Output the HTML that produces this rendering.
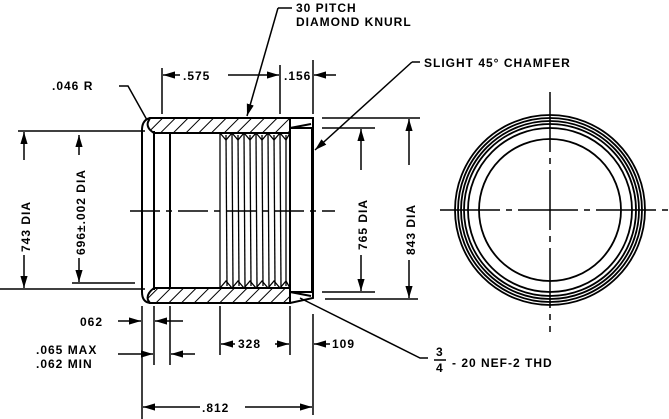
<!DOCTYPE html>
<html><head><style>body{margin:0;background:#fff}svg{display:block}text{font-family:"Liberation Sans",sans-serif;font-weight:bold;fill:#000;letter-spacing:1px}</style></head><body>
<svg width="669" height="419" viewBox="0 0 669 419" xmlns="http://www.w3.org/2000/svg">
<defs>
<pattern id="h" width="9" height="9" patternUnits="userSpaceOnUse" patternTransform="rotate(45)"><line x1="0" y1="0" x2="0" y2="9" stroke="#000" stroke-width="2"/></pattern>
<marker id="a" viewBox="0 0 10 6" refX="10" refY="3" markerWidth="8" markerHeight="5" orient="auto-start-reverse"><path d="M0,0L10,3L0,6z"/></marker>
</defs>
<g stroke="#000" stroke-width="2" fill="none">
<path d="M150,118 L290,118 L290,133 L170,133 L154,133 Q146,128 148,122Z" fill="url(#h)"/>
<path d="M150,303 L290,303 L290,288 L170,288 L154,288 Q146,294 148,300Z" fill="url(#h)"/>
<path d="M290,118 L313,118 L313,298 L290,303"/>
<path d="M290,128 L311,124 M290,292 L311,296"/>
<rect x="290" y="128" width="22" height="164"/>
<path d="M150,118 Q142,120 142,130 L142,292 Q142,302 150,303"/>
<line x1="154" y1="131" x2="154" y2="290"/>
<line x1="170" y1="133" x2="170" y2="288"/>
<g stroke-width="1.3">
<line x1="220" y1="133" x2="220" y2="288"/><line x1="226" y1="135" x2="227" y2="286"/>
<line x1="232" y1="133" x2="233" y2="288"/><line x1="238" y1="135" x2="239" y2="286"/>
<line x1="244" y1="133" x2="245" y2="288"/><line x1="250" y1="135" x2="251" y2="286"/>
<line x1="256" y1="133" x2="257" y2="288"/><line x1="262" y1="135" x2="263" y2="286"/>
<line x1="268" y1="133" x2="269" y2="288"/><line x1="274" y1="135" x2="275" y2="286"/>
<line x1="280" y1="133" x2="281" y2="288"/><line x1="286" y1="135" x2="286" y2="286"/>
</g>
<path d="M220,133 L226,140 L232,133 L238,140 L244,133 L250,140 L256,133 L262,140 L268,133 L274,140 L280,133 L286,140 L290,133" stroke-width="1.3"/>
<path d="M220,288 L226,281 L232,288 L238,281 L244,288 L250,281 L256,288 L262,281 L268,288 L274,281 L280,288 L286,281 L290,288" stroke-width="1.3"/>
<line x1="130" y1="211" x2="335" y2="211" stroke-width="1.5" stroke-dasharray="30,6,6,6"/>
<g stroke-width="1.5">
<line x1="18" y1="131" x2="145" y2="131"/><line x1="0" y1="289" x2="145" y2="289"/>
<line x1="72" y1="283" x2="135" y2="283"/>
<line x1="322" y1="128" x2="375" y2="128"/><line x1="322" y1="292" x2="375" y2="292"/>
<line x1="322" y1="118" x2="420" y2="118"/><line x1="325" y1="299" x2="418" y2="299"/>
<line x1="162" y1="68" x2="162" y2="114"/><line x1="280" y1="65" x2="280" y2="114"/><line x1="313" y1="60" x2="313" y2="114"/>
<line x1="142" y1="306" x2="142" y2="419"/><line x1="154" y1="306" x2="154" y2="365"/><line x1="170" y1="306" x2="170" y2="365"/>
<line x1="220" y1="306" x2="220" y2="355"/><line x1="290" y1="306" x2="290" y2="355"/><line x1="313" y1="314" x2="313" y2="415"/>
</g>
<g stroke-width="1.5" marker-end="url(#a)">
<line x1="24" y1="160" x2="24" y2="132"/><line x1="24" y1="255" x2="24" y2="288"/>
<line x1="79" y1="155" x2="79" y2="135"/><line x1="79" y1="258" x2="79" y2="282"/>
<line x1="361" y1="170" x2="361" y2="129"/><line x1="361" y1="255" x2="361" y2="291"/>
<line x1="409" y1="165" x2="409" y2="119"/><line x1="409" y1="260" x2="409" y2="298"/>
<line x1="180" y1="75" x2="163" y2="75"/><line x1="228" y1="75" x2="279" y2="75"/>
<line x1="336" y1="75" x2="314" y2="75"/>
<line x1="118" y1="321" x2="141" y2="321"/><line x1="183" y1="321" x2="155" y2="321"/>
<line x1="118" y1="354" x2="153" y2="354"/><line x1="195" y1="354" x2="171" y2="354"/>
<line x1="235" y1="344" x2="221" y2="344"/><line x1="275" y1="344" x2="289" y2="344"/>
<line x1="330" y1="344" x2="314" y2="344"/>
<line x1="200" y1="407" x2="143" y2="407"/><line x1="245" y1="407" x2="312" y2="407"/>
<line x1="278" y1="8" x2="247" y2="116"/>
<line x1="412" y1="62" x2="315" y2="150"/>
</g>
<path d="M119,86 L128,86 L147,120" stroke-width="1.5"/>
<path d="M278,8 L292,8 M412,62 L420,62 M300,298 L420,358 L428,358" stroke-width="1.5"/>
<g stroke-width="1.8">
<circle cx="550" cy="210" r="95"/><circle cx="550" cy="210" r="92"/><circle cx="550" cy="210" r="89"/>
<circle cx="550" cy="210" r="86"/><circle cx="550" cy="210" r="82"/><circle cx="550" cy="210" r="71"/>
</g>
<line x1="550" y1="92" x2="550" y2="332" stroke-width="1.5" stroke-dasharray="60,6,6,6"/>
<line x1="440" y1="210" x2="669" y2="210" stroke-width="1.5" stroke-dasharray="60,6,6,6"/>
</g>
<g font-size="12">
<text x="296" y="12">30 PITCH</text>
<text x="296" y="26">DIAMOND KNURL</text>
<text x="424" y="67">SLIGHT 45° CHAMFER</text>
<text x="52" y="90">.046 R</text>
<text x="183" y="80">.575</text>
<text x="284" y="80">.156</text>
<text x="80" y="326">062</text>
<text x="36" y="354">.065 MAX</text>
<text x="36" y="368">.062 MIN</text>
<text x="238" y="348">328</text>
<text x="332" y="348">109</text>
<text x="202" y="412">.812</text>
<text x="436" y="356">3</text><text x="436" y="372">4</text>
<line x1="434" y1="360" x2="446" y2="360" stroke="#000" stroke-width="1.5"/>
<text x="452" y="367">- 20 NEF-2 THD</text>
<text transform="translate(30,252) rotate(-90)">743 DIA</text>
<text transform="translate(85,255) rotate(-90)">696±.002 DIA</text>
<text transform="translate(367,250) rotate(-90)">765 DIA</text>
<text transform="translate(415,255) rotate(-90)">843 DIA</text>
</g>
</svg>
</body></html>
